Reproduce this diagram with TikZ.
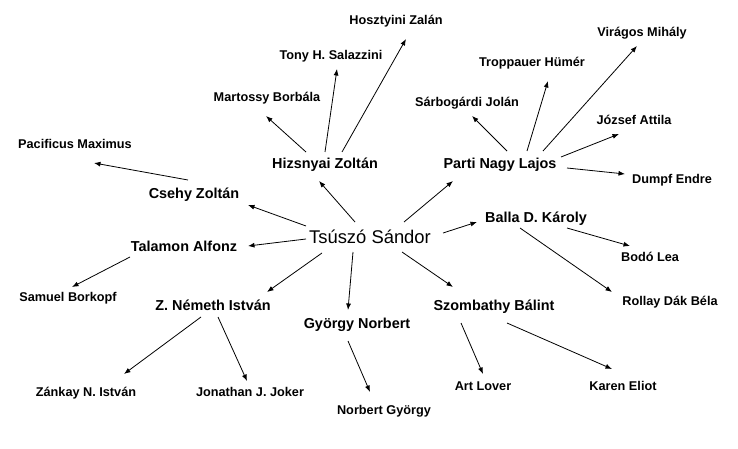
\documentclass[tikz,border=0pt]{standalone}
\usepackage{fontspec}
\setmainfont{Liberation Sans}
\usetikzlibrary{arrows.meta}

\tikzset{
  root/.style={font=\fontsize{18.4}{20}\selectfont, text height=13pt, text depth=0pt, inner sep=0pt},
  mid/.style={font=\fontsize{14.4}{16}\selectfont\bfseries, text height=10.3pt, text depth=0pt, inner sep=0pt},
  leaf/.style={font=\fontsize{12.7}{15}\selectfont\bfseries, text height=9.1pt, text depth=0pt, inner sep=0pt},
  link/.style={line width=0.8pt, -{Latex[length=6.5pt,width=5pt]}}
}

\begin{document}
\begin{tikzpicture}[x=1pt,y=-1pt]
\useasboundingbox (0,0) rectangle (738,449);
% the root:
\node[root] (tsuszo) at (370,237) {Tsúszó Sándor};
% first ring:
\node[mid] (hizsnyai) at (325,163) {Hizsnyai Zoltán};
\node[mid] (parti) at (500,163) {Parti Nagy Lajos};
\node[mid] (csehy) at (194,193) {Csehy Zoltán};
\node[mid] (talamon) at (184,246) {Talamon Alfonz};
\node[mid] (nemeth) at (213,305) {Z. Németh István};
\node[mid] (gyorgy) at (357,323) {György Norbert};
\node[mid] (szombathy) at (494,305) {Szombathy Bálint};
\node[mid] (balla) at (536,217) {Balla D. Károly};
% second ring:
\node[leaf] (martossy) at (267,97) {Martossy Borbála};
\node[leaf] (tony) at (331,55) {Tony H. Salazzini};
\node[leaf] (hosztyini) at (396,20) {Hosztyini Zalán};
\node[leaf] (pacificus) at (75,144) {Pacificus Maximus};
\node[leaf] (samuel) at (68,297) {Samuel Borkopf};
\node[leaf] (zankay) at (86,392) {Zánkay N. István};
\node[leaf] (jonathan) at (250,392) {Jonathan J. Joker};
\node[leaf] (norbert) at (384,410) {Norbert György};
\node[leaf] (artlover) at (483,386) {Art Lover};
\node[leaf] (karen) at (623,386) {Karen Eliot};
\node[leaf] (bodo) at (650,257) {Bodó Lea};
\node[leaf] (rollay) at (670,301) {Rollay Dák Béla};
\node[leaf] (sarbogardi) at (467,102) {Sárbogárdi Jolán};
\node[leaf] (troppauer) at (532,62) {Troppauer Hümér};
\node[leaf] (viragos) at (642,32) {Virágos Mihály};
\node[leaf] (jozsef) at (634,120) {József Attila};
\node[leaf] (dumpf) at (672,179) {Dumpf Endre};
% root to first ring:
\draw[link] ([shift={(-15,-15)}]tsuszo.center) -- ([shift={(-6,18)}]hizsnyai.center);
\draw[link] ([shift={(34,-15)}]tsuszo.center) -- ([shift={(-47,18)}]parti.center);
\draw[link] ([shift={(-64,-11)}]tsuszo.center) -- ([shift={(54,12)}]csehy.center);
\draw[link] ([shift={(-64,2)}]tsuszo.center) -- ([shift={(64,0)}]talamon.center);
\draw[link] ([shift={(-48,16)}]tsuszo.center) -- ([shift={(54,-13)}]nemeth.center);
\draw[link] ([shift={(-17,15)}]tsuszo.center) -- ([shift={(-9,-13)}]gyorgy.center);
\draw[link] ([shift={(32,15)}]tsuszo.center) -- ([shift={(-41,-18)}]szombathy.center);
\draw[link] ([shift={(73,-4)}]tsuszo.center) -- ([shift={(-59,5)}]balla.center);
% first ring to second ring:
\draw[link] ([shift={(-19,-11)}]hizsnyai.center) -- ([shift={(-1,19)}]martossy.center);
\draw[link] ([shift={(0,-11)}]hizsnyai.center) -- ([shift={(6,14)}]tony.center);
\draw[link] ([shift={(17,-11)}]hizsnyai.center) -- ([shift={(10,19)}]hosztyini.center);
\draw[link] ([shift={(-6,-13)}]csehy.center) -- ([shift={(19,19)}]pacificus.center);
\draw[link] ([shift={(-54,11)}]talamon.center) -- ([shift={(4,-10)}]samuel.center);
\draw[link] ([shift={(-12,12)}]nemeth.center) -- ([shift={(38,-18)}]zankay.center);
\draw[link] ([shift={(5,12)}]nemeth.center) -- ([shift={(-3,-11)}]jonathan.center);
\draw[link] ([shift={(-9,18)}]gyorgy.center) -- ([shift={(-14,-18)}]norbert.center);
\draw[link] ([shift={(-33,18)}]szombathy.center) -- ([shift={(0,-12)}]artlover.center);
\draw[link] ([shift={(13,18)}]szombathy.center) -- ([shift={(-11,-17)}]karen.center);
\draw[link] ([shift={(31,11)}]balla.center) -- ([shift={(-20,-11)}]bodo.center);
\draw[link] ([shift={(-16,11)}]balla.center) -- ([shift={(-58,-9)}]rollay.center);
\draw[link] ([shift={(7,-12)}]parti.center) -- ([shift={(5,14)}]sarbogardi.center);
\draw[link] ([shift={(27,-12)}]parti.center) -- ([shift={(16,19)}]troppauer.center);
\draw[link] ([shift={(43,-12)}]parti.center) -- ([shift={(-5,14)}]viragos.center);
\draw[link] ([shift={(61,-6)}]parti.center) -- ([shift={(-15,14)}]jozsef.center);
\draw[link] ([shift={(67,5)}]parti.center) -- ([shift={(-47,-5)}]dumpf.center);
\end{tikzpicture}
\end{document}
